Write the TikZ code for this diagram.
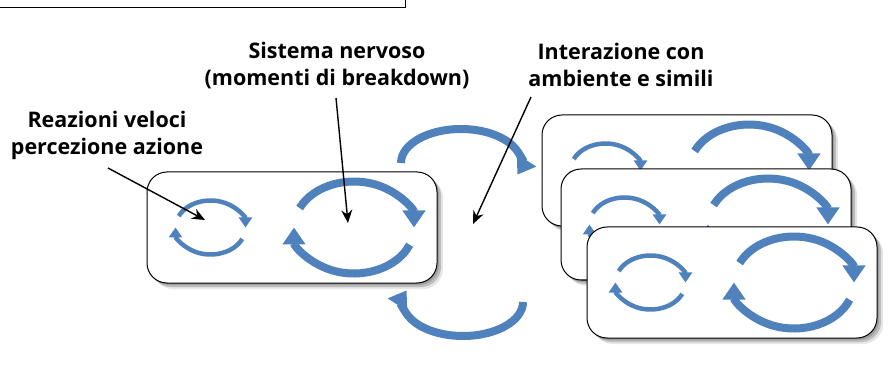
\documentclass[tikz,border=0pt]{standalone}
\usepackage{fontspec}
\setmainfont{Open Sans}
\usetikzlibrary{arrows.meta, calc, shadows, positioning}

\definecolor{blucicli}{RGB}{79,129,189}

\tikzset{
  pannello/.style={draw, line width=1pt, fill=white, rounded corners=20pt,
    minimum width=290pt, minimum height=111pt, inner sep=0pt,
    drop shadow={shadow xshift=2pt, shadow yshift=-2pt, opacity=.5},
    drop shadow={shadow xshift=4pt, shadow yshift=-4pt, opacity=.4},
    drop shadow={shadow xshift=6pt, shadow yshift=-6pt, opacity=.2}},
  anello/.style={draw=blucicli, line width=4.5pt, -{Triangle[width=13pt,length=10pt]}},
  anellogrande/.style={draw=blucicli, line width=8pt, -{Triangle[width=22pt,length=17pt]}},
  etichetta/.style={font=\fontsize{21.5}{27}\selectfont\bfseries, align=center},
  richiamo/.style={draw, line width=1.4pt, -{Stealth[length=13pt,width=11pt]}}
}

% i due cicli dentro un riquadro
\newcommand{\cicli}[1]{%
  \draw[anello] ($(#1.center)+(-81.5,0)$) ++(155:35 and 27)
    arc[start angle=155, end angle=0, x radius=35, y radius=27];
  \draw[anello] ($(#1.center)+(-81.5,0)$) ++(-25:35 and 27)
    arc[start angle=-25, end angle=-180, x radius=35, y radius=27];
  \draw[anellogrande] ($(#1.center)+(62,0)$) ++(155:60 and 46)
    arc[start angle=155, end angle=0, x radius=60, y radius=46];
  \draw[anellogrande] ($(#1.center)+(62,0)$) ++(-22:60 and 46)
    arc[start angle=-22, end angle=-180, x radius=60, y radius=46];
}

\begin{document}
\begin{tikzpicture}[x=1pt, y=1pt]
  \useasboundingbox (0,0) rectangle (895,370);

  % didascalia tagliata in alto
  \node[draw, line width=0.8pt, minimum width=420pt, minimum height=30pt,
    anchor=south east] (didascalia) at (406,362) {};

  % riquadri
  \node[pannello] (boxL) at (292,142.5) {};
  \cicli{boxL}
  \node[pannello] (boxA) at (687,199.5) {};
  \cicli{boxA}
  \node[pannello] (boxB) at (706,145.5) {};
  \cicli{boxB}
  \node[pannello] (boxC) at (732,87.5) {};
  \cicli{boxC}

  % frecce tra i riquadri
  \coordinate (ponteSu) at (401,207);
  \coordinate (ponteGiu) at (523,68);
  \draw[anellogrande] (ponteSu) arc[start angle=180, end angle=-20, x radius=60, y radius=34];
  \draw[anellogrande] (ponteGiu) arc[start angle=0, end angle=-200, x radius=60, y radius=34];

  % etichette
  \node[etichetta] (reazioni) at (107,235) {Reazioni veloci\\percezione azione};
  \node[etichetta] (sistema) at (337,304) {Sistema nervoso\\(momenti di breakdown)};
  \node[etichetta] (interazione) at (621,305) {Interazione con\\ambiente e simili};

  % richiami
  \coordinate (puntaL) at (205,150);
  \coordinate (puntaS) at (348,147);
  \coordinate (puntaI) at (473,146);
  \draw[richiamo] (108,202) -- (puntaL);
  \draw[richiamo] (336,272) -- (puntaS);
  \draw[richiamo] (531,273) -- (puntaI);
\end{tikzpicture}
\end{document}
